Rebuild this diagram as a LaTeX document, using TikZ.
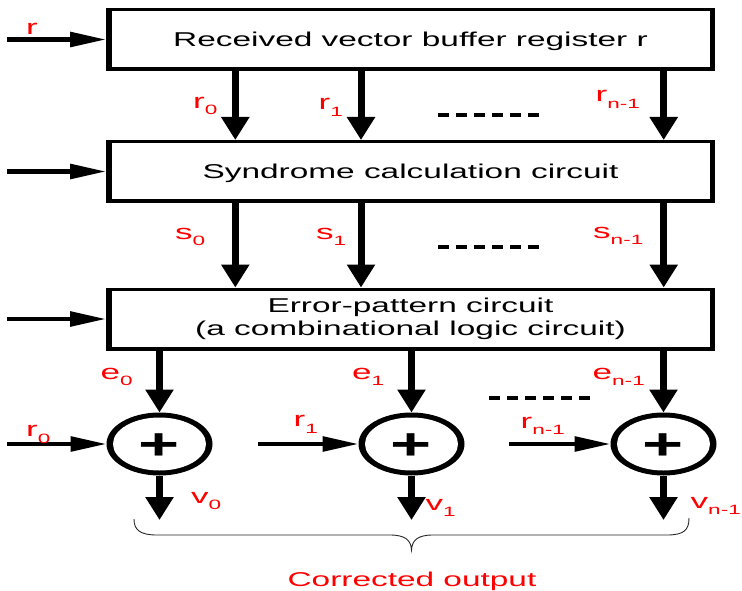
\documentclass[tikz,border=0pt]{standalone}
\usepackage{fontspec}
\setmainfont{Liberation Sans}[FakeStretch=1.67]
\newfontfamily\plusfont{Liberation Sans}[FakeStretch=1.6]
\usetikzlibrary{arrows.meta,shapes.geometric}
\newcommand{\lsub}[1]{\raisebox{-6.5pt}{\fontsize{13.5}{13.5}\selectfont #1}}
\begin{document}
\begin{tikzpicture}[x=1pt,y=-1pt,
  boxout/.style={rectangle, fill=black, minimum width=609pt, minimum height=63pt, inner sep=0pt, outer sep=0pt},
  boxin/.style={rectangle, fill=white, minimum width=598pt, minimum height=56pt, inner sep=0pt, outer sep=0pt, font=\fontsize{20}{22.7}\selectfont, align=center},
  ellout/.style={ellipse, fill=black, minimum width=106pt, minimum height=63pt, inner sep=0pt, outer sep=0pt},
  ellin/.style={ellipse, fill=white, minimum width=93pt, minimum height=53pt, inner sep=0pt, outer sep=0pt, font=\plusfont\bfseries\fontsize{44}{44}\selectfont, text height=30.4pt, text depth=0pt},
  varrow/.style={line width=7pt, -{Triangle[length=23pt,width=27pt]}},
  harrow/.style={line width=4.3pt, -{Triangle[length=36pt,width=14.5pt]}},
  lbl/.style={red, anchor=base west, inner sep=0pt, font=\fontsize{21}{21}\selectfont},
  dots/.style={line width=4pt, dash pattern=on 11pt off 7pt},
  bracepath/.style={line width=0.9pt, black!85}
]
\useasboundingbox (0,0) rectangle (742,591);

% boxes
\node[boxout] (b1) at (410.5,39.5) {};
\node[boxin, text height=14.3pt, text depth=0pt] (b1t) at (b1) {Received vector buffer register r};
\node[boxout] (b2) at (410.5,171.5) {};
\node[boxin, text height=14.3pt, text depth=0pt] (b2t) at (b2) {Syndrome calculation circuit};
\node[boxout] (b3) at (410.5,319) {};
\node[boxin] (b3t) at (b3) {Error-pattern circuit\\(a combinational logic circuit)};

% adders
\node[ellout] (c0) at (159.5,444) {};
\node[ellin] (c0t) at (c0) {+};
\node[ellout] (c1) at (411.5,444) {};
\node[ellin] (c1t) at (c1) {+};
\node[ellout] (c2) at (663.5,444) {};
\node[ellin] (c2t) at (c2) {+};

% columns
\coordinate (xA) at (235.3,0);
\coordinate (xB) at (361,0);
\coordinate (xC) at (663.7,0);

% input arrows
\coordinate (in1) at (7,39.5);
\coordinate (in2) at (7,171.5);
\coordinate (in3) at (7,319);
\draw[harrow] (in1) -- (b1);
\draw[harrow] (in2) -- (b2);
\draw[harrow] (in3) -- (b3);

% box1 -> box2
\draw[varrow] (b1.south -| xA) -- (b2.north -| xA);
\draw[varrow] (b1.south -| xB) -- (b2.north -| xB);
\draw[varrow] (b1.south -| xC) -- (b2.north -| xC);
% box2 -> box3
\draw[varrow] (b2.south -| xA) -- (b3.north -| xA);
\draw[varrow] (b2.south -| xB) -- (b3.north -| xB);
\draw[varrow] (b2.south -| xC) -- (b3.north -| xC);
% box3 -> adders
\draw[varrow] (b3.south -| c0) -- (c0.north);
\draw[varrow] (b3.south -| c1) -- (c1.north);
\draw[varrow] (b3.south -| c2) -- (c2.north);

% adder inputs
\coordinate (ri0) at (7,444);
\coordinate (ri1) at (258.3,444);
\coordinate (ri2) at (509.3,444);
\draw[harrow] (ri0) -- (c0);
\draw[harrow] (ri1) -- (c1);
\draw[harrow] (ri2) -- (c2);

% outputs
\coordinate (o0) at (159.5,520);
\coordinate (o1) at (411.5,520);
\coordinate (o2) at (663.5,520);
\draw[varrow] (c0.south) -- (o0);
\draw[varrow] (c1.south) -- (o1);
\draw[varrow] (c2.south) -- (o2);

% dashes
\draw[dots] (438,115) -- (539,115);
\draw[dots] (438,247) -- (539,247);
\draw[dots] (489.3,398) -- (591,398);

% labels
\node[lbl] (lr) at (26,35) {r};
\node[lbl] (lr0) at (193,108.3) {r\lsub{0}};
\node[lbl] (lr1) at (318.5,110) {r\lsub{1}};
\node[lbl] (lrn) at (595.5,101.7) {r\lsub{n-1}};
\node[lbl] (ls0) at (175,239.3) {s\lsub{0}};
\node[lbl] (ls1) at (316,239.3) {s\lsub{1}};
\node[lbl] (lsn) at (593,238.3) {s\lsub{n-1}};
\node[lbl] (le0) at (100.5,379.3) {e\lsub{0}};
\node[lbl] (le1) at (352,379.3) {e\lsub{1}};
\node[lbl] (len) at (592.5,379.3) {e\lsub{n-1}};
\node[lbl] (lq0) at (26,436.7) {r\lsub{0}};
\node[lbl] (lq1) at (293.5,426.7) {r\lsub{1}};
\node[lbl] (lqn) at (520.5,428.3) {r\lsub{n-1}};
\node[lbl] (lv0) at (191,503.3) {v\lsub{0}};
\node[lbl] (lv1) at (425.5,510) {v\lsub{1}};
\node[lbl] (lvn) at (690.5,508.3) {v\lsub{n-1}};

% brace
\draw[bracepath] (134,519) .. controls (134,530) and (140,535) .. (157,535) -- (390,535)
  .. controls (405,535) and (411,540) .. (411.5,550)
  .. controls (412,540) and (418,535) .. (433,535) -- (667,535)
  .. controls (684,535) and (689,530) .. (689,518);

\node[red, anchor=base, inner sep=0pt, font=\fontsize{20}{20}\selectfont] (out) at (412,586.7) {Corrected output};
\end{tikzpicture}
\end{document}
